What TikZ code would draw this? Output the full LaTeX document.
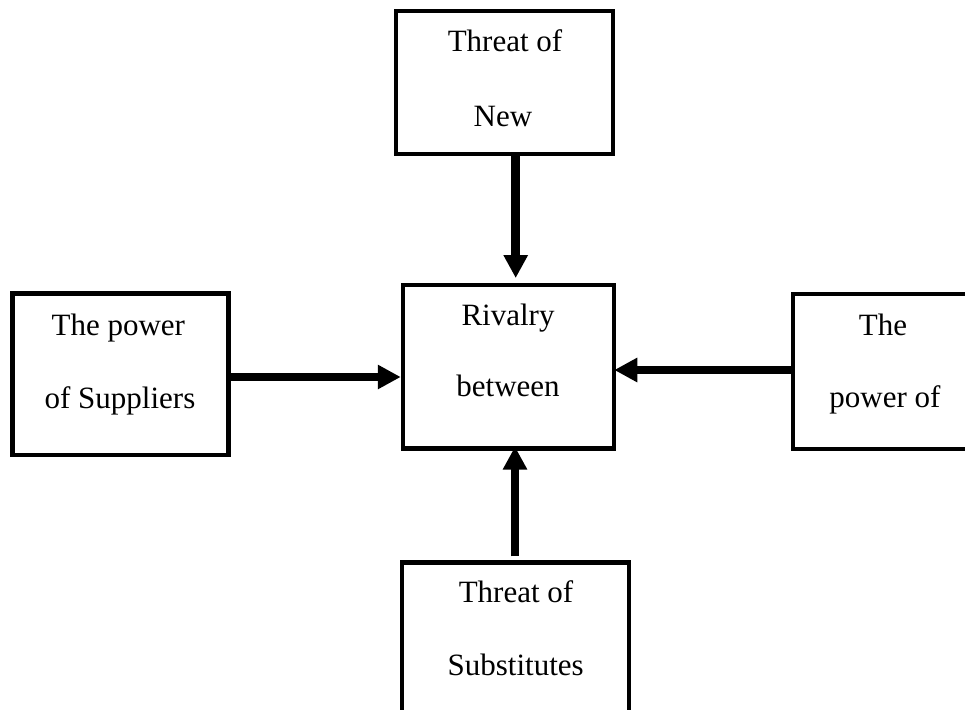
\documentclass[tikz,border=0pt]{standalone}
\usepackage{fontspec}
\setmainfont{Liberation Serif}
\usetikzlibrary{arrows.meta}
\begin{document}
\begin{tikzpicture}[x=1pt,y=-1pt,
  box/.style={draw, rectangle, line width=4.5pt, inner sep=0pt, fill=white},
  lbl/.style={anchor=base, inner sep=0pt, font=\fontsize{31pt}{36pt}\selectfont},
  arr/.style={line width=8.5pt, -{Triangle[length=23pt,width=23pt]}}]
\useasboundingbox (0,0) rectangle (965,709);
% outer forces and the central rivalry box
\node[box, minimum width=217pt,   minimum height=143pt]   (tb) at (504.5,82.5) {};
\node[box, minimum width=211pt,   minimum height=163.3pt] (cb) at (508.5,366.7) {};
\node[box, minimum width=216.4pt, minimum height=161.7pt] (lb) at (120.5,374.2) {};
\node[box, minimum width=217pt,   minimum height=155pt]   (rb) at (901.5,371.5) {};
\node[box, minimum width=227.3pt, minimum height=160pt]   (bb) at (515.4,642.7) {};
% labels
\node[lbl] (tb1) at (505,52) {Threat of};
\node[lbl] (tb2) at (503,126) {New};
\node[lbl] (cb1) at (508,325.7) {Rivalry};
\node[lbl] (cb2) at (508,396.7) {between};
\node[lbl] (lb1) at (118.3,335) {The power};
\node[lbl] (lb2) at (120,408) {of Suppliers};
\node[lbl] (rb1) at (883,335) {The};
\node[lbl] (rb2) at (885,407.7) {power of};
\node[lbl] (bb1) at (516,602) {Threat of};
\node[lbl] (bb2) at (515.7,675.7) {Substitutes};
% arrow guide lines
\coordinate (ax1) at (515.7,0);
\coordinate (ax2) at (515,0);
\coordinate (ay1) at (0,377);
\coordinate (ay2) at (0,370);
% arrows into the rivalry box
\draw[arr, shorten >=4.75pt] (tb.south -| ax1) -- (cb.north -| ax1);
\draw[arr] (lb.east |- ay1) -- (cb.west |- ay1);
\draw[arr, shorten >=-2pt] (rb.west |- ay2) -- (cb.east |- ay2);
\draw[arr, shorten <=4pt, shorten >=-4pt] (bb.north -| ax2) -- (cb.south -| ax2);
\end{tikzpicture}
\end{document}
